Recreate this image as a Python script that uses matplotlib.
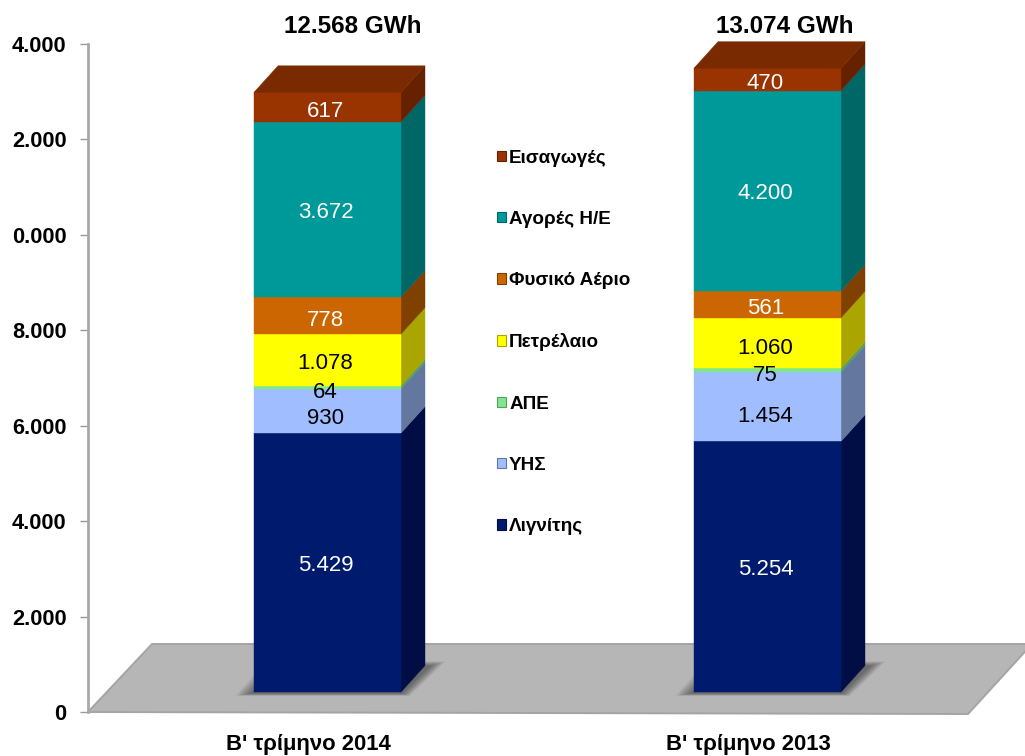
import matplotlib
matplotlib.use("Agg")
import matplotlib.pyplot as plt
from matplotlib.patches import Polygon, Patch

plt.rcParams['font.family'] = ['Liberation Sans', 'DejaVu Sans']

# ---- data ----
categories = ["B' τρίμηνο 2014", "B' τρίμηνο 2013"]
totals = ["12.568 GWh", "13.074 GWh"]
series_names = ["Λιγνίτης", "ΥΗΣ", "ΑΠΕ", "Πετρέλαιο", "Φυσικό Αέριο", "Αγορές Η/Ε", "Εισαγωγές"]
values_2014 = [5429, 930, 64, 1078, 778, 3672, 617]
values_2013 = [5254, 1454, 75, 1060, 561, 4200, 470]
labels_2014 = ["5.429", "930", "64", "1.078", "778", "3.672", "617"]
labels_2013 = ["5.254", "1.454", "75", "1.060", "561", "4.200", "470"]
y_ticks = [0, 2000, 4000, 6000, 8000, 10000, 12000, 14000]
y_tick_labels = ["0", "2.000", "4.000", "6.000", "8.000", "0.000", "2.000", "4.000"]

# ---- style ----
front = ["#001A6E", "#A0BDFF", "#80E88C", "#FFFF00", "#CC6600", "#009999", "#993300"]
side = ["#000E45", "#64789F", "#55A060", "#AAA500", "#804000", "#006666", "#662200"]
top_col = "#7A2A00"
text_col = ["white", "black", "black", "black", "white", "white", "white"]
label_dy_px = {0: [3, 8, 5, 4, 5, 3, 4], 1: [3, 10, 5, 5, 4, 3, 4]}
W, H = 1025, 756
AX_L, AX_R, AX_B, AX_T = 88, 968, 712, 44

fig = plt.figure(figsize=(W / 100, H / 100), dpi=100, facecolor="white")
ax = fig.add_axes([AX_L / W, 1 - AX_B / H, (AX_R - AX_L) / W, (AX_B - AX_T) / H])
ax.set_xlim(-0.5, 1.5)
ax.set_ylim(0, 14000)
ux = 2 / (AX_R - AX_L)      # data units per pixel, x
uy = 14000 / (AX_B - AX_T)  # data units per pixel, y

BAR_W = 147 * ux
OFF_X, OFF_Y = 19.5 * ux, 20 * uy      # front face offset from the axis
DX, DY = 24 * ux, 26.5 * uy            # depth of the 3D bar

# floor
floor = [(-0.5, 0), (1.5, -2 * uy), (1.5 + 64 * ux, 68 * uy), (-0.5 + 64 * ux, 68 * uy)]
ax.add_patch(Polygon(floor, closed=True, fc="#B6B6B6", ec="#A4A4A4", lw=1.4, clip_on=False, zorder=1))


def poly(pts, fc, z):
    ax.add_patch(Polygon(pts, closed=True, fc=fc, ec=fc, lw=0.3, clip_on=False, zorder=z))


for i, (vals, labs) in enumerate(zip([values_2014, values_2013], [labels_2014, labels_2013])):
    xl = i + OFF_X - BAR_W / 2
    xr = xl + BAR_W
    # soft shadow on the floor
    for k in range(10):
        g = (9 - k) * 1.7
        shadow = [(xl - (3 + g) * ux, OFF_Y - (1.5 + g * 0.15) * uy),
                  (xr + (1 + g * 0.5) * ux, OFF_Y - (1.5 + g * 0.15) * uy),
                  (xr + (29 + g) * ux, OFF_Y + (26 + g * 0.3) * uy),
                  (xl + (27 - g) * ux, OFF_Y + (26 + g * 0.3) * uy)]
        ax.add_patch(Polygon(shadow, closed=True, fc="#303030", ec="none", alpha=0.075, clip_on=False, zorder=2))
    base = OFF_Y
    for j, v in enumerate(vals):
        t = base + v
        poly([(xr, base), (xr + DX, base + DY), (xr + DX, t + DY), (xr, t)], side[j], 3)
        poly([(xl, base), (xr, base), (xr, t), (xl, t)], front[j], 4)
        ax.text((xl + xr) / 2 - 2 * ux, (base + t) / 2 - label_dy_px[i][j] * uy, labs[j],
                ha="center", va="center", fontsize=16, color=text_col[j], zorder=6)
        base = t
    poly([(xl, base), (xr, base), (xr + DX, base + DY), (xl + DX, base + DY)], top_col, 5)
    ax.text(i + 45 * ux if i == 0 else i + 37 * ux, (AX_B - 26.5) * uy, totals[i], ha="center", va="center",
            fontsize=17.5, fontweight="bold", color="black", clip_on=False, zorder=6)

# axes
for s in ["top", "right", "bottom"]:
    ax.spines[s].set_visible(False)
ax.spines["left"].set_color("#A8A8A8")
ax.spines["left"].set_linewidth(2)
ax.set_yticks(y_ticks)
ax.set_yticklabels(y_tick_labels, fontsize=15.7, fontweight="bold")
ax.tick_params(axis="y", length=5.5, width=1, color="#999999", pad=10)
ax.set_xticks([0, 1])
ax.set_xticklabels(categories, fontsize=15.9, fontweight="bold")
ax.tick_params(axis="x", length=0, pad=16)
ax.patch.set_alpha(0)

# legend
handles = [Patch(fc=front[j], ec=side[j], lw=0.8) for j in range(6, -1, -1)]
leg = ax.legend(handles, series_names[::-1], loc="upper left",
                bbox_to_anchor=(491.5 / W, 1 - 144 / H), bbox_transform=fig.transFigure,
                frameon=False, prop={"size": 13.6, "weight": "bold"},
                handlelength=0.48, handleheight=0.48, handletextpad=0.15,
                labelspacing=2.343, borderpad=0.3, borderaxespad=0)
leg.set_zorder(10)

fig.savefig("out.png", dpi=100)
